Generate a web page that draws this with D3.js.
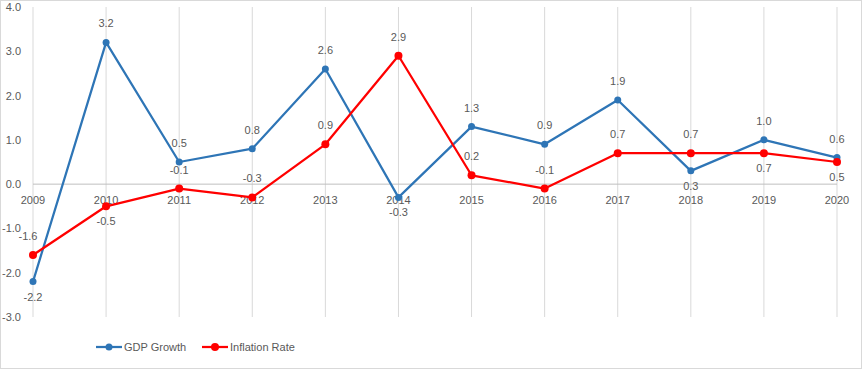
<!DOCTYPE html>
<html>
<head>
<meta charset="utf-8">
<script src="https://cdn.jsdelivr.net/npm/d3@7"></script>
<style>
  body { margin: 0; background: #fff; }
  svg text { font-family: "Liberation Sans", Arial, sans-serif; fill: #595959; }
</style>
</head>
<body>
<script>
var width = 862,
    height = 369;

var years = ['2009', '2010', '2011', '2012', '2013', '2014', '2015', '2016', '2017', '2018', '2019', '2020'];
var gdpGrowth = [-2.2, 3.2, 0.5, 0.8, 2.6, -0.3, 1.3, 0.9, 1.9, 0.3, 1.0, 0.6];
var inflationRate = [-1.6, -0.5, -0.1, -0.3, 0.9, 2.9, 0.2, -0.1, 0.7, 0.7, 0.7, 0.5];
var yTicks = [4, 3, 2, 1, 0, -1, -2, -3];

// which labels sit below their point (the rest go above)
var gdpBelow = ['2009', '2014', '2018'];
var infBelow = ['2010', '2019', '2020'];

var series = [
  { name: 'GDP Growth', values: gdpGrowth, color: '#2E75B6', r: 3.5, below: gdpBelow },
  { name: 'Inflation Rate', values: inflationRate, color: '#FF0000', r: 4, below: infBelow }
];

// excel style numbers, plain hyphen for minus
var fmt = v => d3.format('.1f')(v).replace('\u2212', '-');

var svg = d3.select('body').append('svg')
    .attr('width', width)
    .attr('height', height);

// chart border
svg.append('rect')
    .attr('x', 0.5).attr('y', 0.5)
    .attr('width', width - 1).attr('height', height - 1)
    .attr('fill', 'none')
    .attr('stroke', '#d9d9d9');

var x = d3.scalePoint()
    .domain(years)
    .range([33, 837]);

var y = d3.scaleLinear()
    .domain([-3, 4])
    .range([317, 7]);

// vertical gridlines
svg.append('g')
  .selectAll('line')
  .data(years)
  .join('line')
    .attr('x1', d => x(d)).attr('x2', d => x(d))
    .attr('y1', y(4)).attr('y2', y(-3))
    .attr('stroke', '#d9d9d9')
    .attr('stroke-width', 1);

// zero axis line
svg.append('line')
    .attr('x1', x(years[0])).attr('x2', x(years[years.length - 1]))
    .attr('y1', y(0)).attr('y2', y(0))
    .attr('stroke', '#bfbfbf')
    .attr('stroke-width', 1);

// y tick labels
svg.append('g')
  .selectAll('text')
  .data(yTicks)
  .join('text')
    .attr('x', 21)
    .attr('y', d => y(d) + 4)
    .attr('text-anchor', 'end')
    .attr('font-size', '11px')
    .text(d => fmt(d));

// category labels
svg.append('g')
  .selectAll('text')
  .data(years)
  .join('text')
    .attr('x', d => x(d))
    .attr('y', y(0) + 20)
    .attr('text-anchor', 'middle')
    .attr('font-size', '11px')
    .text(d => d);

var line = d3.line()
    .x(d => x(d.year))
    .y(d => y(d.v));

series.forEach(function (s) {
  var pts = years.map((yr, i) => ({ year: yr, v: s.values[i] }));
  var g = svg.append('g');

  g.append('path')
      .datum(pts)
      .attr('d', line)
      .attr('fill', 'none')
      .attr('stroke', s.color)
      .attr('stroke-width', 2.25)
      .attr('stroke-linejoin', 'round');

  g.selectAll('circle')
    .data(pts)
    .join('circle')
      .attr('cx', d => x(d.year))
      .attr('cy', d => y(d.v))
      .attr('r', s.r)
      .attr('fill', s.color);

  g.selectAll('text')
    .data(pts)
    .join('text')
      .attr('x', d => x(d.year) + (s.name === 'Inflation Rate' && d.year === '2009' ? -5 : 0))
      .attr('y', d => s.below.indexOf(d.year) >= 0 ? y(d.v) + 19 : y(d.v) - 15)
      .attr('text-anchor', 'middle')
      .attr('font-size', '11px')
      .text(d => fmt(d.v));
});

// legend
var legend = svg.append('g')
  .selectAll('g')
  .data(series)
  .join('g')
    .attr('transform', (d, i) => 'translate(' + (96 + i * 106) + ',347)');

legend.append('line')
    .attr('x1', 0).attr('x2', 26)
    .attr('stroke', d => d.color)
    .attr('stroke-width', 2.25);

legend.append('circle')
    .attr('cx', 13)
    .attr('r', d => d.r)
    .attr('fill', d => d.color);

legend.append('text')
    .attr('x', 28)
    .attr('y', 4)
    .attr('font-size', '11px')
    .text(d => d.name);
</script>
</body>
</html>
